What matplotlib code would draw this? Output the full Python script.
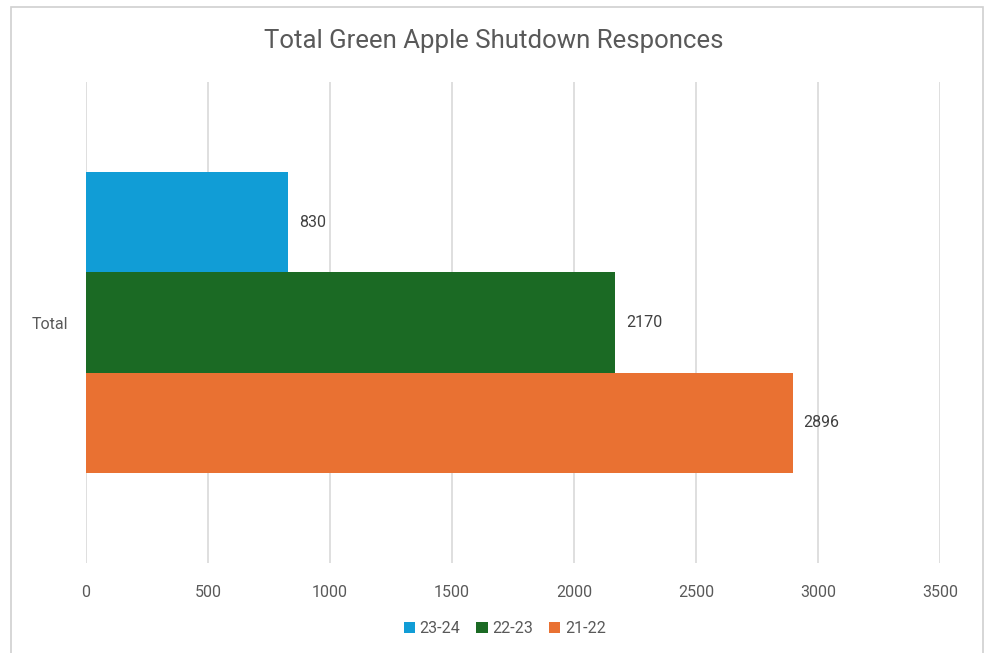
import matplotlib.pyplot as plt
from matplotlib.patches import Rectangle

plt.rcParams['font.family'] = ['Roboto', 'DejaVu Sans']

category = 'Total'
series = ['21-22', '22-23', '23-24']
values = [2896, 2170, 830]
colors = ['#e97132', '#1b6a24', '#119dd6']
xticks = [0, 500, 1000, 1500, 2000, 2500, 3000, 3500]

fig = plt.figure(figsize=(9.88, 6.53), dpi=100)
ax = fig.add_axes([0.0870, 0.1378, 0.8644, 0.7366])

# chart frame
fig.patches.append(Rectangle((0.011, -0.01), 0.984, 1.0, transform=fig.transFigure,
                             facecolor='white', edgecolor='#d0d0d0', lw=1.2, zorder=-1))

h = 0.208
offsets = [-h, 0, h]
for name, v, c, off in zip(series, values, colors, offsets):
    ax.barh(off, v, height=h, color=c, label=name, zorder=3)
    ax.text(v + 45, off, str(v), va='center', ha='left', fontsize=11.5, color='#404040')

ax.set_xlim(0, 3500)
ax.set_ylim(-0.5, 0.5)
ax.set_xticks(xticks)
ax.set_xticklabels([str(t) for t in xticks], fontsize=11.5, color='#595959')
ax.set_yticks([0])
ax.set_yticklabels([category], fontsize=11.5, color='#595959')
ax.tick_params(axis='x', length=0, pad=16)
ax.tick_params(axis='y', length=0, pad=13)
ax.grid(axis='x', color='#d9d9d9', lw=1.2, zorder=0)
for s in ax.spines.values():
    s.set_visible(False)

fig.text(0.5, 0.937, 'Total Green Apple Shutdown Responces', ha='center', va='center',
         fontsize=18.5, color='#595959')

handles, labels = ax.get_legend_handles_labels()
fig.legend(handles[::-1], labels[::-1], loc='center', bbox_to_anchor=(0.511, 0.038),
           ncol=3, frameon=False, fontsize=11.5, handlelength=0.7, handleheight=0.7,
           handletextpad=0.3, columnspacing=1.0, labelcolor='#595959')

fig.savefig('out.png', dpi=100)
